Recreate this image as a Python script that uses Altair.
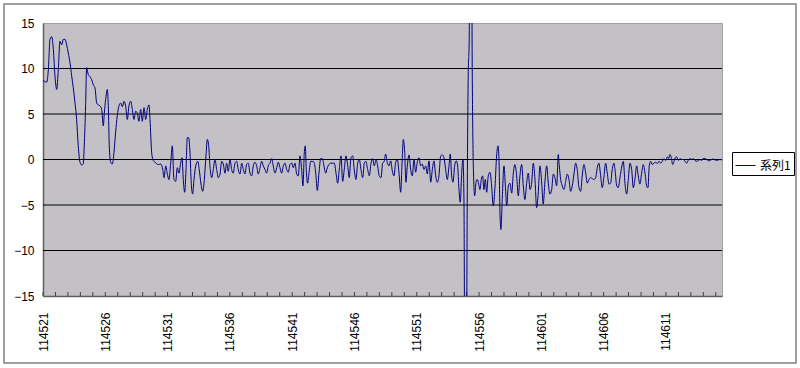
import altair as alt
import pandas as pd

# time in seconds from 11:45:21, value of series 1
time_s = [
    0, 0.30, 0.43, 0.56, 0.70, 0.83, 0.96, 1.10, 1.23, 1.36, 1.50, 1.63, 1.77, 1.90, 2.03, 2.17, 2.30, 2.43, 2.57, 2.70,
    2.83, 2.97, 3.10, 3.23, 3.31, 3.42, 3.50, 3.64, 3.77, 3.90, 4.04, 4.17, 4.31, 4.44, 4.57, 4.71, 4.84, 4.92, 5.03, 5.16,
    5.24, 5.32, 5.43, 5.56, 5.70, 5.83, 5.96, 6.10, 6.23, 6.37, 6.50, 6.63, 6.77, 6.90, 7.04, 7.17, 7.30, 7.44, 7.57, 7.70,
    7.84, 7.97, 8.11, 8.24, 8.37, 8.51, 8.59, 8.72, 8.85, 8.99,
    9.25, 9.45, 9.61, 9.71, 9.85, 9.98, 10.11, 10.25, 10.38, 10.51, 10.65, 10.78, 10.91, 11.05, 11.16,
    11.26, 11.37, 11.48, 11.58, 11.69, 11.80, 11.90, 12.01, 12.12, 12.26, 12.42, 12.54, 12.68, 12.82, 12.95,
    13.08, 13.19, 13.30, 13.40, 13.54, 13.67, 13.80, 13.94, 14.07, 14.21, 14.34, 14.47, 14.61, 14.74, 14.87,
    15.01, 15.14, 15.27, 15.41, 15.55, 15.67, 15.81, 15.95, 16.08, 16.21, 16.35, 16.48, 16.61, 16.75, 16.88,
    17.01, 17.15, 17.28, 17.42, 17.55, 17.68, 17.82, 17.95, 18.08,
    18.22, 18.36, 18.48, 18.62, 18.76, 18.89, 19.02, 19.16, 19.29, 19.42, 19.56, 19.69, 19.82, 19.96, 20.09,
    20.23, 20.36, 20.49, 20.63, 20.76, 20.87, 20.97, 21.05, 21.13, 21.24, 21.35, 21.49, 21.61, 21.75, 21.89,
    22.02, 22.15, 22.29, 22.42, 22.55, 22.69, 22.82, 22.95, 23.09, 23.25, 23.38, 23.52, 23.65, 23.78, 23.92,
    24.05, 24.18, 24.32, 24.46, 24.58, 24.72, 24.86, 24.98, 25.12, 25.26, 25.39, 25.52, 25.66, 25.79, 25.92,
    26.06, 26.19, 26.33, 26.46, 26.59, 26.73, 26.86, 26.99, 27.13, 27.26, 27.39,
    27.50, 27.63, 27.77, 27.91, 28.03, 28.17, 28.31, 28.44, 28.57, 28.71, 28.81, 28.92, 29.03, 29.13, 29.24,
    29.38, 29.51, 29.64, 29.78, 29.91, 30.04, 30.18, 30.31, 30.44, 30.58, 30.72, 30.84, 30.98, 31.12, 31.25,
    31.38, 31.52, 31.65, 31.78, 31.92, 32.05, 32.18, 32.32, 32.45, 32.59, 32.69, 32.80, 32.91, 33.04, 33.17,
    33.28, 33.39, 33.49, 33.61, 33.71, 33.79, 33.87, 33.97, 34.05, 34.13, 34.21, 34.29, 34.38, 34.46, 34.54,
    34.65, 34.75, 34.86, 34.97, 35.07, 35.18, 35.29, 35.39, 35.50, 35.61, 35.74, 35.88, 36.01, 36.14,
    36.28, 36.41, 36.52, 36.60, 36.68, 36.76, 36.86, 37.00, 37.11, 37.22, 37.35, 37.48, 37.62, 37.75, 37.88,
    38.02, 38.15, 38.28, 38.42, 38.55, 38.68, 38.82, 38.95, 39.09, 39.22, 39.35, 39.49, 39.62, 39.75, 39.89,
    40.03, 40.15, 40.29, 40.43, 40.56, 40.69, 40.83, 40.96, 41.09, 41.23, 41.36, 41.44, 41.55, 41.68, 41.82,
    41.95, 42.08, 42.22, 42.35, 42.48, 42.62, 42.75, 42.88, 43.02, 43.16, 43.28, 43.42, 43.56, 43.69, 43.82,
    43.96, 44.09, 44.22, 44.36, 44.49, 44.62, 44.76, 44.89, 45.03, 45.16, 45.29, 45.43, 45.56, 45.69, 45.83,
    45.91, 46.05, 46.17, 46.31, 46.47, 46.58, 46.71, 46.85, 46.98, 47.11, 47.25, 47.38, 47.51, 47.65, 47.78,
    47.91, 48.05, 48.18, 48.32, 48.45, 48.56, 48.66, 48.77, 48.90, 49.04, 49.18, 49.31, 49.44, 49.58, 49.71,
    49.84, 49.98, 50.11, 50.22, 50.32, 50.43, 50.54, 50.65, 50.75, 50.86, 50.99, 51.13, 51.26, 51.39, 51.53,
    51.66, 51.79, 51.93, 52.06, 52.19, 52.33, 52.47, 52.59, 52.73, 52.87, 52.99, 53.13, 53.27, 53.40, 53.53,
    53.67, 53.80, 53.94, 54.07, 54.20, 54.34, 54.50,
]

values = [
    8.7, 8.5, 9.9, 13.2, 13.5, 12.1, 9.2, 7.7, 9.9, 13.0, 12.6, 13.2, 13.2, 12.6, 11.7, 10.6, 9.2, 7.9, 6.2, 4.4,
    1.5, -0.3, -0.6, -0.5, 1.5, 5.9, 10.1, 9.3, 9.1, 8.8, 8.2, 7.9, 6.2, 6.0, 5.9, 5.5, 3.7, 5.1, 6.6, 7.7,
    5.9, 1.5, -0.3, -0.5, 0.8, 3.0, 4.8, 5.9, 6.2, 5.8, 6.4, 5.9, 4.4, 5.9, 6.4, 5.5, 4.4, 5.3, 5.1, 4.2,
    5.5, 4.2, 5.7, 4.4, 5.5, 6.0, 4.4, 0.8, -0.1, -0.3,
    -0.55, -0.5, -1.1, -2.0, -0.7, -1.6, -2.2, -0.4, 1.5, -2.2, -2.4, -0.9, -1.5, -0.4, 0.2,
    -2.2, -3.6, -1.1, 2.4, 2.4, 0.7, -2.6, -3.8, -2.2, -0.7, -0.2, -1.1, -2.7, -3.5, -2.2,
    0.4, 2.2, 1.5, -0.7, -2.0, -1.1, 0, -1.1, -2.0, -1.6, -0.2, -0.5, -1.5, -0.4, -1.3,
    0, -1.1, -1.5, -0.4, -0.2, -1.1, -1.6, -0.4, -1.1, -1.6, -0.5, -0.4, -1.5, -1.8, -0.7,
    -0.3, -0.7, -1.6, -0.9, -0.2, -0.7, -1.1, -1.5, -0.7,
    -0.4, 0.1, -0.7, -1.5, -0.9, -0.3, -0.9, -1.5, -0.7, -0.4, -1.1, -1.4, -0.55, -0.4, -0.9,
    -0.4, -1.6, -1.8, 0.4, -1.1, -2.9, 0.7, 1.5, -1.1, -2.6, -1.5, -0.2, -0.2, -0.3, -1.5,
    -3.4, -1.5, 0.1, 0.1, -0.7, -1.5, -0.9, -0.55, -0.4, -0.4, -0.4, -1.5, -2.6, -1.1, 0.4,
    -2.4, -1.1, 0.4, -0.7, -2.0, 0.2, 0.4, -1.1, -2.2, -0.4, 0, -1.1, -2.0, -0.4, -0.2,
    -1.1, -1.8, -0.4, 0.1, -0.7, 0, -0.7, -1.8, -2.0, -0.4, -0.2,
    0.6, -0.3, -0.7, -0.15, -1.2, -1.8, -0.3, 0, -1.4, -3.6, -0.7, 2.2, 0.8, -2.5, -0.7,
    0.5, -1.1, -1.8, 0, -1.4, -0.3, 0.2, -0.7, -0.5, -1.1, -0.7, -1.6, -0.15, -2.5, -1.1,
    -0.15, -1.8, -2.5, -1.8, 0.4, 0.5, 0.2, -1.1, -2.2, -0.7, 0.6, -1.8, -2.5, -0.7, -0.15,
    -0.7, -3.3, -4.7, -1.4, 0, -4.7, -28, -28, -4.7, 9.2, 13.2, 28, 28, 8.5, -0.7,
    -4.0, -2.5, -2.2, -2.7, -3.3, -2.2, -1.8, -3.3, -2.2, -3.6, -1.8, -1.4, -2.9, -5.1,
    -3.0, 0.4, 1.5, 0, -5.9, -7.7, -4.4, -0.7, -2.9, -5.1, -2.9, -2.6, -3.7, -1.5, -0.55,
    -1.8, -4.0, -1.8, -0.55, -2.9, -4.4, -2.6, -1.5, -3.3, -2.6, -0.4, -2.2, -5.3, -3.7, -0.7,
    -2.6, -4.9, -2.4, -0.7, -2.6, -3.8, -3.3, -1.6, -2.0, -2.9, 0.55, -0.7, -2.2, -2.9, -3.3,
    -2.4, -1.6, -2.2, -3.5, -2.9, -1.6, -0.4, -1.1, -3.1, -3.5, -1.8, -0.55, -1.5, -2.6, -2.2,
    -2.0, -2.1, -2.2, -2.0, -0.9, -0.4, -1.8, -3.1, -1.8, -0.4, -1.5, -2.7, -2.6, -1.1, -0.4,
    -1.1, -2.9, -3.1, -2.0, -0.7, -0.2, -2.6, -3.8, -2.2, -0.4, -1.1, -3.1, -2.2, -0.7, -1.8,
    -2.7, -1.5, -0.55, -1.5, -2.9, -3.1, -0.7, -0.2, -0.55, -0.4, -0.3, -0.45, -0.2, -0.4, -0.2,
    0.1, -0.1, 0.3, 0.1, 0.55, 0.2, -0.55, -0.2, 0.2, 0.3, -0.1, 0.1, 0, 0, -0.2,
    -0.4, -0.1, 0.1, 0, 0.1, -0.1, -0.2, -0.1, 0, -0.1, 0.1, 0.1, 0, -0.15, -0.1,
    0, 0.05, -0.05, -0.1, -0.05, 0, -0.05,
]

assert len(time_s) == len(values), (len(time_s), len(values))

series_name = "系列1"
tick_labels = ["114521", "114526", "114531", "114536", "114541", "114546",
               "114551", "114556", "114601", "114606", "114611"]
label_seconds = [0, 5, 10, 15, 20, 25, 30, 35, 40, 45, 50]
tick_seconds = list(range(0, 55))
y_label_values = [-15, -10, -5, 0, 5, 10, 15]
grid_values = [-10, -5, 0, 5, 10]

df = pd.DataFrame({"t": time_s, "v": values, "series": series_name})

x_scale = alt.Scale(domain=[0, 54.5], nice=False, zero=False)
y_scale = alt.Scale(domain=[-15, 15], nice=False, zero=False)

label_expr = "[" + ",".join("'" + s + "'" for s in tick_labels) + "][round(datum.value / 5)]"

x_axis = alt.Axis(values=label_seconds, labelExpr=label_expr, labelAngle=270, ticks=False,
                  grid=False, title=None, labelPadding=16, domainColor="#606060", domainWidth=1.5)
y_axis = alt.Axis(values=y_label_values, ticks=False, grid=False, title=None, labelPadding=9,
                  domainColor="#606060", domainWidth=1.5)

W, H = 679, 273

frame = alt.Chart(pd.DataFrame({"a": [0]})).mark_rect(
    fill="transparent", stroke="#808080", strokeWidth=1.5, clip=False
).encode(x=alt.value(-39), x2=alt.value(753), y=alt.value(-19), y2=alt.value(340))

grid = alt.Chart(pd.DataFrame({"g": grid_values})).mark_rule(color="black", strokeWidth=1).encode(
    y=alt.Y("g:Q", scale=y_scale, axis=y_axis)
)

ticks = alt.Chart(pd.DataFrame({"s": tick_seconds})).mark_rule(color="#404040", strokeWidth=1).encode(
    x=alt.X("s:Q", scale=x_scale, axis=x_axis),
    y=alt.value(H),
    y2=alt.value(H - 4),
)

line = alt.Chart(df).mark_line(strokeWidth=1, clip=True, interpolate="monotone").encode(
    x=alt.X("t:Q", scale=x_scale, axis=x_axis),
    y=alt.Y("v:Q", scale=y_scale, axis=y_axis),
    color=alt.Color(
        "series:N",
        scale=alt.Scale(range=["#000080"]),
        legend=alt.Legend(
            title=None, orient="none", legendX=689, legendY=129,
            strokeColor="black", fillColor="white", padding=3, cornerRadius=0,
            symbolType="stroke", symbolSize=400, symbolStrokeWidth=1,
            labelFont="Noto Sans CJK JP", labelFontSize=12, labelColor="black", labelOffset=4,
        ),
    ),
)

chart = alt.layer(frame, grid, ticks, line).properties(
    width=W, height=H,
    autosize=alt.AutoSizeParams(type="none"),
    padding={"left": 43, "top": 23, "right": 800 - 43 - W, "bottom": 368 - 23 - H},
    background="white",
).configure_view(
    fill="#c3c1c6", stroke="#a0a0a0", strokeWidth=1
).configure_axis(
    labelFont="Liberation Sans", labelFontSize=12, labelColor="black"
)

chart.save("out.html", embed_options={"renderer": "svg", "actions": False})
